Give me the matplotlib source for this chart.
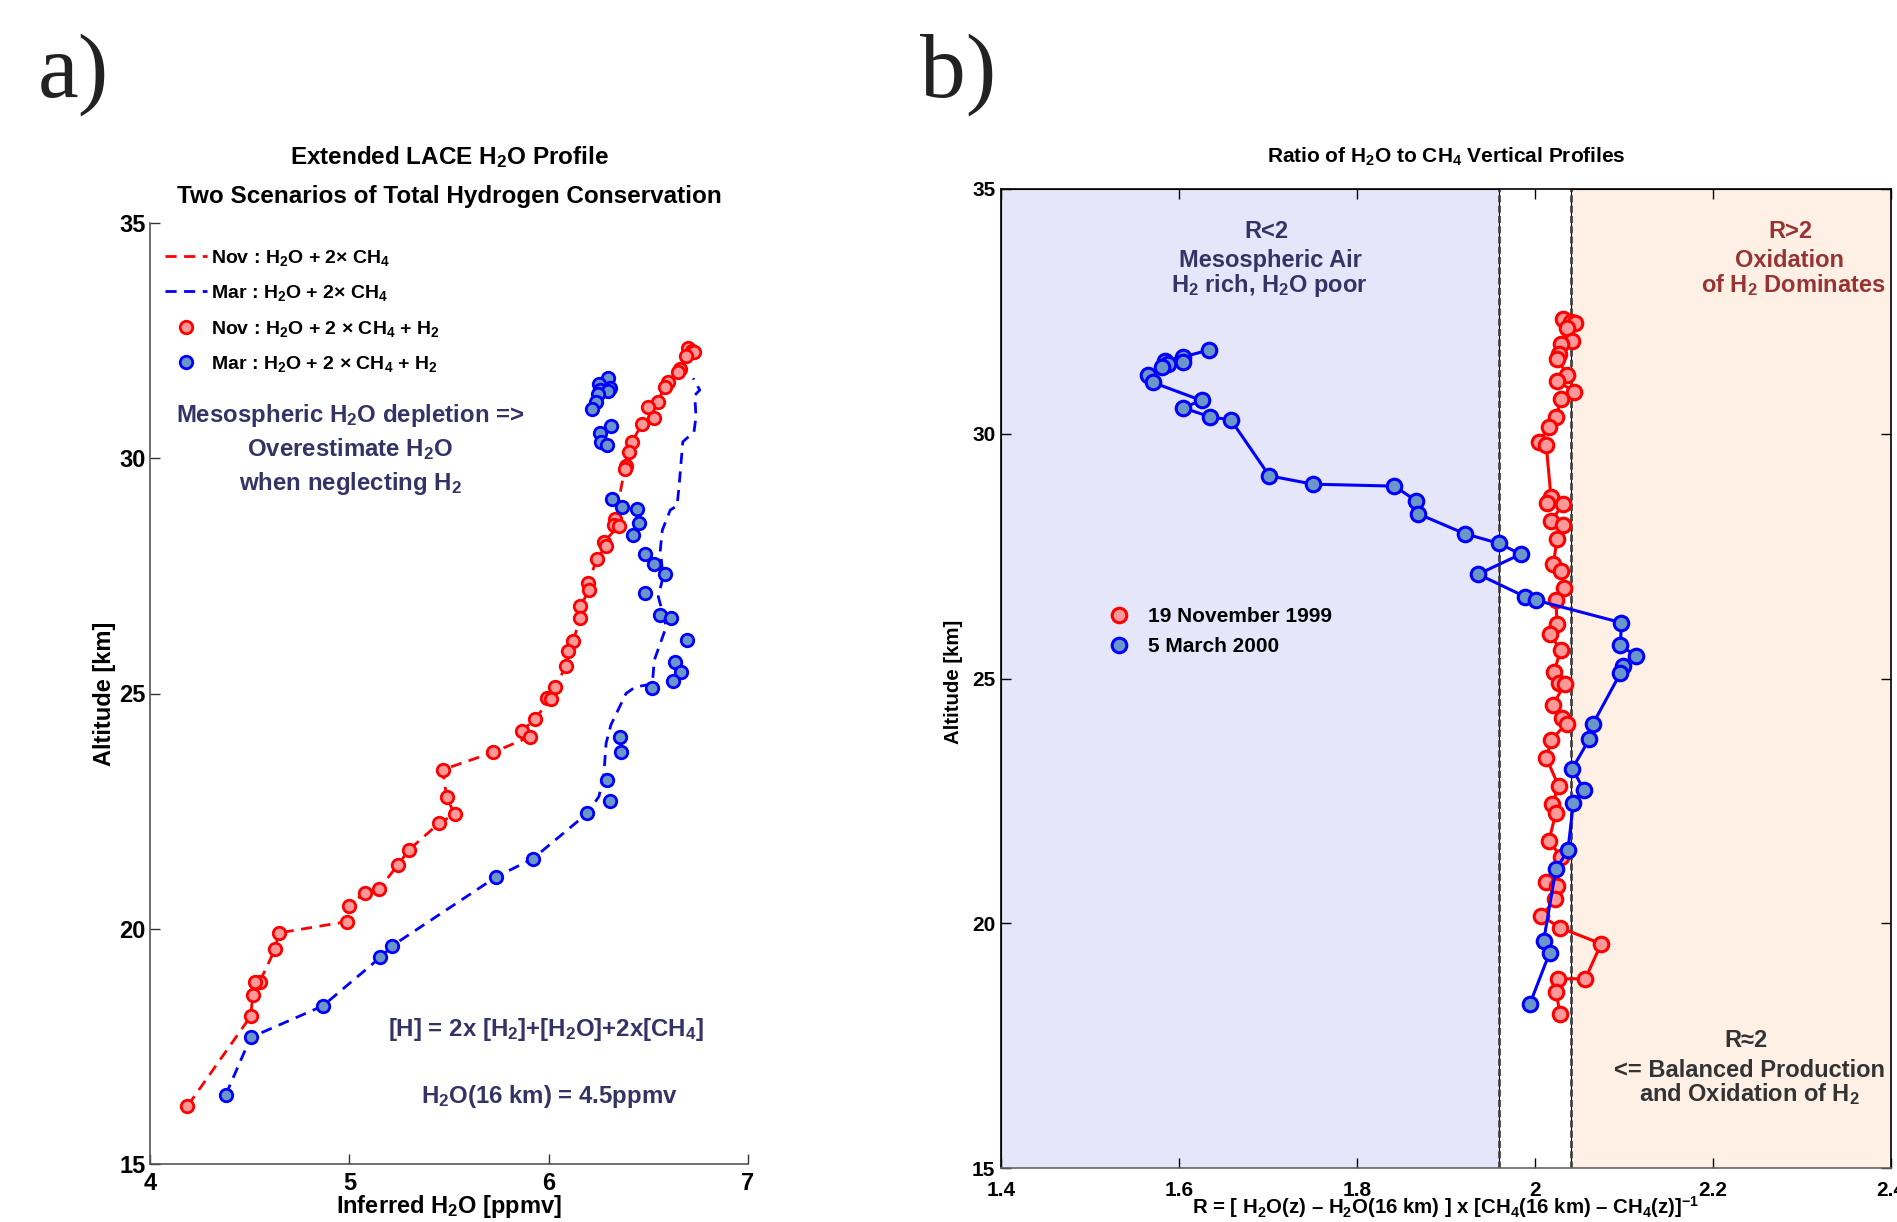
import matplotlib
matplotlib.use('Agg')
import matplotlib.pyplot as plt
from matplotlib.lines import Line2D

plt.rcParams['font.family'] = ['Liberation Sans', 'DejaVu Sans']
plt.rcParams['font.weight'] = 'bold'
plt.rcParams['mathtext.fontset'] = 'custom'
plt.rcParams['mathtext.rm'] = 'Liberation Sans:bold'
plt.rcParams['mathtext.it'] = 'Liberation Sans:bold:italic'
plt.rcParams['mathtext.bf'] = 'Liberation Sans:bold'
plt.rcParams['mathtext.sf'] = 'Liberation Sans:bold'

# ---------------- data: panel a ----------------
nov_alt_a = [32.34, 32.29, 32.26, 32.17, 31.90, 31.84, 31.63, 31.52, 31.20, 31.08,
             30.86, 30.72, 30.34, 30.14, 29.84, 29.77, 28.70, 28.58, 28.56, 28.22,
             28.13, 27.86, 27.34, 27.20, 26.85, 26.60, 26.11, 25.90, 25.58, 25.14,
             24.90, 24.88, 24.45, 24.20, 24.08, 23.75, 23.38, 22.80, 22.43, 22.25,
             21.68, 21.36, 20.85, 20.76, 20.49, 20.15, 19.91, 19.58, 18.87, 18.86,
             18.60, 18.14, 16.23]
nov_h2o = [6.70, 6.72, 6.73, 6.69, 6.66, 6.65, 6.60, 6.585, 6.546, 6.50,
           6.53, 6.467, 6.417, 6.405, 6.387, 6.382, 6.332, 6.33, 6.352, 6.276,
           6.288, 6.242, 6.197, 6.203, 6.159, 6.157, 6.123, 6.099, 6.088, 6.030,
           5.994, 6.01, 5.929, 5.865, 5.905, 5.722, 5.468, 5.488, 5.528, 5.452,
           5.30, 5.244, 5.151, 5.077, 4.996, 4.986, 4.645, 4.629, 4.55, 4.526,
           4.516, 4.505, 4.188]

mar_alt_a = [31.71, 31.57, 31.49, 31.46, 31.42, 31.37, 31.20, 31.05, 30.68, 30.53,
             30.35, 30.28, 29.14, 28.97, 28.93, 28.63, 28.37, 27.96, 27.76, 27.54,
             27.13, 26.67, 26.60, 26.14, 25.68, 25.45, 25.26, 25.11, 24.07, 23.76,
             23.16, 22.72, 22.45, 21.49, 21.10, 19.64, 19.39, 18.36, 17.69, 16.47]
mar_h2o = [6.298, 6.25, 6.31, 6.257, 6.30, 6.248, 6.239, 6.219, 6.312, 6.258,
           6.262, 6.292, 6.318, 6.367, 6.441, 6.455, 6.425, 6.485, 6.527, 6.582,
           6.485, 6.56, 6.615, 6.695, 6.635, 6.665, 6.625, 6.52, 6.357, 6.365,
           6.292, 6.306, 6.193, 5.921, 5.736, 5.216, 5.155, 4.867, 4.505, 4.38]

# H2O + 2xCH4 (no H2) for March
mar_noh2_alt = [16.47, 17.69, 18.36, 19.39, 19.64, 21.10, 21.49, 22.45, 22.81, 23.23,
                23.94, 24.33, 25.00, 25.14, 25.20, 25.71, 26.42, 27.06, 27.48, 28.05,
                28.47, 28.90, 28.99, 29.40, 30.35, 30.56, 30.88, 31.34, 31.45, 31.70]
mar_noh2_h2o = [4.38, 4.505, 4.867, 5.155, 5.216, 5.736, 5.921, 6.193, 6.252, 6.276,
                6.288, 6.312, 6.388, 6.435, 6.52, 6.530, 6.59, 6.55, 6.574, 6.56,
                6.57, 6.61, 6.644, 6.654, 6.673, 6.729, 6.739, 6.733, 6.758, 6.725]
# H2O + 2xCH4 (no H2) for November
nov_noh2_alt = nov_alt_a
nov_noh2_h2o = nov_h2o

# ---------------- data: panel b ----------------
nov_alt_b = nov_alt_a[:-1]
nov_ratio = [2.0317, 2.040, 2.0454, 2.0365, 2.042, 2.0297, 2.027, 2.025, 2.0365, 2.025,
             2.044, 2.0297, 2.0236, 2.016, 2.0044, 2.0126, 2.018, 2.0133, 2.0317, 2.018,
             2.0317, 2.025, 2.0206, 2.0291, 2.0326, 2.0235, 2.0248, 2.0171, 2.029, 2.0213,
             2.027, 2.0334, 2.0197, 2.030, 2.0355, 2.0183, 2.0128, 2.0265, 2.0195, 2.0234,
             2.0155, 2.0293, 2.0124, 2.025, 2.0226, 2.0073, 2.0281, 2.0743, 2.0566, 2.026,
             2.0234, 2.0285]
mar_alt_b = mar_alt_a[:-2]
mar_ratio = [1.6335, 1.6047, 1.584, 1.6045, 1.5875, 1.5806, 1.5652, 1.5703, 1.6253, 1.6043,
             1.6344, 1.6584, 1.7015, 1.7505, 1.842, 1.8665, 1.868, 1.9208, 1.9595, 1.984,
             1.936, 1.989, 2.001, 2.097, 2.096, 2.114, 2.099, 2.096, 2.065, 2.061,
             2.042, 2.055, 2.043, 2.037, 2.0234, 2.0097, 2.0163, 1.9944]

region_bounds = [1.4, 1.96, 2.04, 2.4]

a_xticks = [4, 5, 6, 7]
a_yticks = [15, 20, 25, 30, 35]
b_xticks = [1.4, 1.6, 1.8, 2.0, 2.2, 2.4]
b_xticklabels = ['1.4', '1.6', '1.8', '2', '2.2', '2.4']
b_yticks = [15, 20, 25, 30, 35]

# ---------------- style ----------------
RED = '#FF0000'
RED_FILL = '#FF9999'
BLUE = '#0000FF'
BLUE_FILL = '#6B96C8'
NAVY = '#333366'
BROWN = '#993333'
GREY = '#333333'
LAVENDER = '#E6E6FA'
PEACH = '#FEF0E5'

W, H = 1897, 1222
fig = plt.figure(figsize=(W / 100, H / 100), dpi=100)

# ================= panel a =================
axa = fig.add_axes([150 / W, 1 - 1164 / H, 598 / W, 941 / H])
dash = (0, (4, 2.7))
axa.plot(nov_noh2_h2o, nov_noh2_alt, color=RED, lw=2, linestyle=dash, zorder=2)
axa.plot(mar_noh2_h2o, mar_noh2_alt, color=BLUE, lw=2, linestyle=dash, zorder=2)
axa.plot(nov_h2o, nov_alt_a, linestyle='none', marker='o', ms=9, mew=2,
         mec=RED, mfc=RED_FILL, zorder=3)
axa.plot(mar_h2o, mar_alt_a, linestyle='none', marker='o', ms=9, mew=2,
         mec=BLUE, mfc=BLUE_FILL, zorder=3)
axa.set_xlim(4, 7)
axa.set_ylim(15, 35)
axa.set_xticks(a_xticks)
axa.set_xticklabels([str(v) for v in a_xticks])
axa.set_yticks(a_yticks)
axa.tick_params(direction='in', length=7, width=1, labelsize=17, colors='#333333',
                labelcolor='black')
axa.tick_params(axis='x', pad=6)
axa.tick_params(axis='y', pad=3)
for s in ['top', 'right']:
    axa.spines[s].set_visible(False)
for s in ['left', 'bottom']:
    axa.spines[s].set_color('#555555')
    axa.spines[s].set_linewidth(1.2)
axa.set_xlabel('Inferred H$_2$O [ppmv]', fontsize=17, fontweight='bold', va='top')
axa.xaxis.set_label_coords(0.5, -0.031)
axa.set_ylabel('Altitude [km]', fontsize=17, fontweight='bold')
axa.yaxis.set_label_coords(-0.057, 0.5)

axa.text(0.5, 1.0627, 'Extended LACE H$_2$O Profile', transform=axa.transAxes,
         ha='center', va='baseline', fontsize=17.5, fontweight='bold')
axa.text(0.5, 1.0213, 'Two Scenarios of Total Hydrogen Conservation', transform=axa.transAxes,
         ha='center', va='baseline', fontsize=17.5, fontweight='bold')

handles_a = [
    Line2D([], [], color=RED, lw=2, linestyle=dash),
    Line2D([], [], color=BLUE, lw=2, linestyle=dash),
    Line2D([], [], linestyle='none', marker='o', ms=9, mew=2, mec=RED, mfc=RED_FILL),
    Line2D([], [], linestyle='none', marker='o', ms=9, mew=2, mec=BLUE, mfc=BLUE_FILL),
]
labels_a = [
    'Nov : H$_2$O + 2\u00d7 CH$_4$',
    'Mar : H$_2$O + 2\u00d7 CH$_4$',
    'Nov : H$_2$O + 2 \u00d7 CH$_4$ + H$_2$',
    'Mar : H$_2$O + 2 \u00d7 CH$_4$ + H$_2$',
]
axa.legend(handles_a, labels_a, loc='upper left', bbox_to_anchor=(0.025, 0.9735),
           frameon=False, handlelength=2.15, handletextpad=0.2,
           labelspacing=0.79, borderaxespad=0, borderpad=0,
           prop={'weight': 'bold', 'size': 14})

axa.text(5.004, 30.78, 'Mesospheric H$_2$O depletion =>', ha='center', va='baseline',
         fontsize=17.3, fontweight='bold', color=NAVY)
axa.text(5.004, 30.04, 'Overestimate H$_2$O', ha='center', va='baseline',
         fontsize=17.3, fontweight='bold', color=NAVY)
axa.text(5.004, 29.33, 'when neglecting H$_2$', ha='center', va='baseline',
         fontsize=17.3, fontweight='bold', color=NAVY)
axa.text(5.988, 17.71, '[H] = 2x [H$_2$]+[H$_2$O]+2x[CH$_4$]', ha='center', va='baseline',
         fontsize=17.3, fontweight='bold', color=NAVY)
axa.text(6.003, 16.30, 'H$_2$O(16 km) = 4.5ppmv', ha='center', va='baseline',
         fontsize=17.3, fontweight='bold', color=NAVY)

# ================= panel b =================
axb = fig.add_axes([1001 / W, 1 - 1168 / H, 890 / W, 979 / H])
axb.axvspan(region_bounds[0], region_bounds[1], facecolor=LAVENDER, edgecolor='k',
            lw=0.8, zorder=0)
axb.axvspan(region_bounds[2], region_bounds[3], facecolor=PEACH, edgecolor='k',
            lw=0.8, zorder=0)
axb.axvline(region_bounds[1], color='#444444', lw=2, linestyle=(0, (2.5, 1.2)), zorder=1)
axb.axvline(region_bounds[2], color='#444444', lw=2, linestyle=(0, (2.5, 1.2)), zorder=1)

axb.plot(nov_ratio, nov_alt_b, color=RED, lw=2.2, marker='o', ms=10.5, mew=2.2,
         mec=RED, mfc=RED_FILL, zorder=3)
axb.plot(mar_ratio, mar_alt_b, color=BLUE, lw=2.2, marker='o', ms=10.5, mew=2.2,
         mec=BLUE, mfc=BLUE_FILL, zorder=4)

axb.set_xlim(1.4, 2.4)
axb.set_ylim(15, 35)
axb.set_xticks(b_xticks)
axb.set_xticklabels(b_xticklabels)
axb.set_yticks(b_yticks)
axb.tick_params(direction='in', length=7, width=1, labelsize=15, top=True, right=True)
axb.tick_params(axis='x', pad=9)
axb.tick_params(axis='y', pad=4)
for s in axb.spines.values():
    s.set_linewidth(1.2)
axb.spines['bottom'].set_color('#666666')

axb.set_xlabel('R = [ H$_2$O(z) \u2013 H$_2$O(16 km) ] x [CH$_4$(16 km) \u2013 CH$_4$(z)]$^{-1}$',
               fontsize=14.7, fontweight='bold', va='top')
axb.xaxis.set_label_coords(0.5, -0.027)
axb.set_ylabel('Altitude [km]', fontsize=14.7, fontweight='bold')
axb.yaxis.set_label_coords(-0.043, 0.497)
axb.text(0.5, 1.027, 'Ratio of H$_2$O to CH$_4$ Vertical Profiles', transform=axb.transAxes,
         ha='center', va='baseline', fontsize=15, fontweight='bold')

handles_b = [
    Line2D([], [], linestyle='none', marker='o', ms=10.5, mew=2.2, mec=RED, mfc=RED_FILL),
    Line2D([], [], linestyle='none', marker='o', ms=10.5, mew=2.2, mec=BLUE, mfc=BLUE_FILL),
]
axb.legend(handles_b, ['19 November 1999', '5 March 2000'], loc='upper left',
           bbox_to_anchor=(0.111, 0.573), frameon=False,
           handlelength=1.8, handletextpad=0.5, labelspacing=0.55, borderaxespad=0,
           borderpad=0, prop={'weight': 'bold', 'size': 15})

axb.text(1.698, 34.0, 'R<2', ha='center', va='baseline', fontsize=17, fontweight='bold', color=NAVY)
axb.text(1.703, 33.41, 'Mesospheric Air', ha='center', va='baseline', fontsize=17,
         fontweight='bold', color=NAVY)
axb.text(1.701, 32.90, 'H$_2$ rich, H$_2$O poor', ha='center', va='baseline', fontsize=17,
         fontweight='bold', color=NAVY)
axb.text(2.2865, 34.0, 'R>2', ha='center', va='baseline', fontsize=17, fontweight='bold', color=BROWN)
axb.text(2.2865, 33.41, 'Oxidation', ha='center', va='baseline', fontsize=17,
         fontweight='bold', color=BROWN)
axb.text(2.29, 32.90, 'of H$_2$ Dominates', ha='center', va='baseline', fontsize=17,
         fontweight='bold', color=BROWN)
axb.text(2.237, 17.47, 'R\u22482', ha='center', va='baseline', fontsize=17, fontweight='bold', color=GREY)
axb.text(2.2405, 16.86, '<= Balanced Production', ha='center', va='baseline', fontsize=17,
         fontweight='bold', color=GREY)
axb.text(2.2405, 16.37, 'and Oxidation of H$_2$', ha='center', va='baseline', fontsize=17,
         fontweight='bold', color=GREY)

# panel letters
fig.text(38 / W, 1 - 97 / H, 'a)', fontsize=66, family='Liberation Serif',
         fontweight='normal', va='baseline', ha='left', color='#222222')
fig.text(920 / W, 1 - 97 / H, 'b)', fontsize=66, family='Liberation Serif',
         fontweight='normal', va='baseline', ha='left', color='#222222')

fig.savefig('out.png', dpi=100)
